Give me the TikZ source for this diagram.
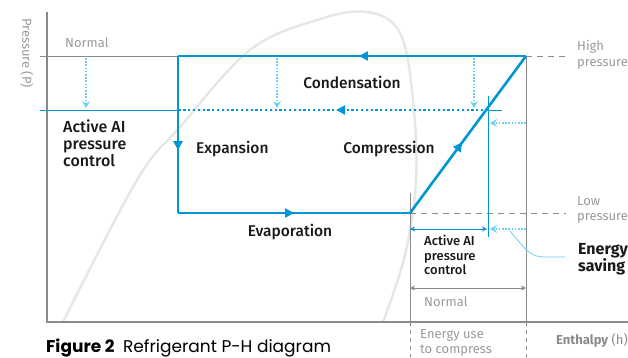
\documentclass[tikz,border=0pt]{standalone}
\usepackage{fontspec}
\setmainfont{Fira Sans}
\newfontfamily\medfont{Fira Sans Medium}
\newfontfamily\capfont{Poppins}
\usepackage{xcolor}
\usetikzlibrary{arrows.meta,positioning,calc,decorations.markings}
\definecolor{cycleblue}{HTML}{0096D6}
\definecolor{lightblue}{HTML}{6DCFF6}
\definecolor{axisgray}{HTML}{8A8A8A}
\definecolor{labelgray}{HTML}{9A9A9A}
\definecolor{domegray}{HTML}{E6E6E6}

\begin{document}
\begin{tikzpicture}[
  x=1pt, y=-1pt,
  axis/.style={axisgray, line width=1.3pt},
  guide/.style={axisgray, line width=0.8pt},
  dashguide/.style={axisgray, line width=0.8pt, dash pattern=on 6pt off 5pt},
  cycle/.style={cycleblue, line width=2.6pt},
  thinblue/.style={cycleblue, line width=1pt},
  hint/.style={lightblue, line width=2pt, dash pattern=on 1.6pt off 1.6pt, -{Stealth[length=7pt, width=8pt, inset=2.5pt]}},
  midarrow/.style={postaction={decorate, decoration={markings,
    mark=at position #1 with {\arrow{Triangle[length=9pt, width=9pt]}}}}},
  lbl/.style={font=\medfont\fontsize{15.5}{17}\selectfont, text=black!90, align=left, inner sep=0pt},
  small/.style={font=\medfont\fontsize{13}{14.5}\selectfont, text=black!90, align=left, inner sep=0pt},
  note/.style={font=\fontsize{13}{15.5}\selectfont, labelgray, align=left, inner sep=0pt}
]
\useasboundingbox (0,0) rectangle (628,357);
\clip (0,0) rectangle (628,357);

% saturation dome
\draw[domegray, line width=2.4pt] plot[smooth, tension=0.6] coordinates {
  (63,322) (137,180) (180,127) (250,50) (317,20) (367,12) (400,33)
  (413,100) (416,180) (405,255) (383,322)};

% cycle corners
\coordinate (cond in) at (526,56);
\coordinate (cond out) at (178,56);
\coordinate (evap in) at (178,213);
\coordinate (evap out) at (410,213);
\coordinate (ai cross) at (488,110);

% axes
\draw[axis] (47,12) -- (47,322) -- (628,322);
\node[note, rotate=-90] (paxis) at (27,53) {Pressure (P)};

% reference levels
\draw[guide] (40,56) -- (cond out);
\draw[thinblue] (40,110) -- (178,110);
\draw[dashguide] (cond in) -- (566,56);
\draw[dashguide] (evap out) -- (566,213);
\draw[guide] (cond in) -- (526,322);
\draw[guide] (410,193) -- (410,322);
\draw[guide, dash pattern=on 4pt off 4pt] (526,322) -- (526,357);
\draw[guide, dash pattern=on 4pt off 4pt] (410,322) -- (410,357);

% active AI cycle
\draw[cycleblue, line width=2.4pt, dash pattern=on 2.2pt off 2.6pt, midarrow=0.49]
  (ai cross) -- (178,110);
\draw[thinblue] (488,96) -- (488,237);
\draw[thinblue] (ai cross) -- (502,110);

% main cycle
\draw[cycle, midarrow=0.48] (cond in) -- (cond out);
\draw[cycle, midarrow=0.6] (cond out) -- (evap in);
\draw[cycle, midarrow=0.5] (evap in) -- (evap out);
\draw[cycle, midarrow=0.45] (evap out) -- (cond in);

% pressure drop hints
\foreach \px in {86,277,474}
  \draw[hint] (\px,58) -- (\px,108);
\draw[hint] (526,123) -- (490,123);
\draw[hint] (526,229) -- (490,229);

% enthalpy spans
\draw[thinblue, {Stealth[length=5pt, width=5pt]}-{Stealth[length=5pt, width=5pt]}]
  (410,229) -- (487,229);
\draw[guide, {Stealth[length=5pt, width=5pt]}-{Stealth[length=5pt, width=5pt]}]
  (410,288) -- (526,288);
\draw[lightblue, line width=0.8pt] (510,231) .. controls (528,252) and (530,257) .. (546,257) -- (565,257);

% labels
\node[note, anchor=west] (normal p) at (65,43) {Normal};
\node[lbl, font=\medfont\fontsize{16}{17}\selectfont, anchor=north west] (ai p) at (63,120) {Active AI\\pressure\\control};
\node[lbl] (cond) at (352,82) {Condensation};
\node[lbl, anchor=west] (expa) at (196,149) {Expansion};
\node[lbl] (comp) at (389,149) {Compression};
\node[lbl] (evap) at (290,232) {Evaporation};
\node[note, anchor=west] (high) at (577,55) {High\\pressure};
\node[note, anchor=west] (low) at (577,210) {Low\\pressure};
\node[small, anchor=north west] (ai h) at (424,235) {Active AI\\pressure\\control};
\node[note, anchor=west] (normal h) at (424,302) {Normal};
\node[lbl, font=\fontsize{16}{16.5}\selectfont\bfseries, anchor=west] (saving) at (578,259) {Energy\\saving};
\node[note, anchor=north west] (use) at (420,329) {Energy use\\to compress};
\node[note, anchor=west, text=axisgray] (haxis) at (556,340) {\textbf{Enthalpy} (h)};
\node[inner sep=0pt, anchor=base west, font=\capfont\fontsize{17}{19}\selectfont] (caption) at (46,352)
  {\textbf{Figure 2}\enspace Refrigerant P-H diagram};
\end{tikzpicture}
\end{document}
